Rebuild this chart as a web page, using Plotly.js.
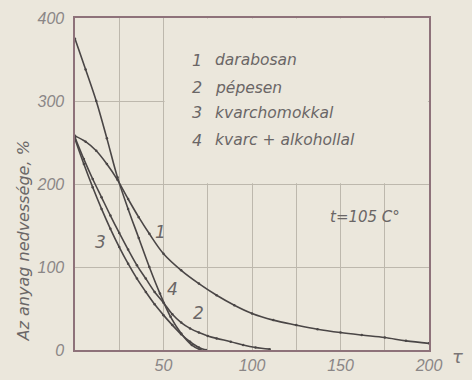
<!DOCTYPE html>
<html>
<head>
<meta charset="utf-8">
<script src="https://cdn.plot.ly/plotly-3.0.1.min.js"></script>
<style>html,body{margin:0;padding:0;background:#ebe7dc;}#chart{width:472px;height:380px;}</style>
</head>
<body>
<div id="chart"></div>
<script>
// Curve 1 - darabosan
const x1 = [0, 6, 12, 18, 24, 30, 36, 42, 50, 60, 70, 80, 90, 100, 112, 125, 137, 150, 162, 175, 187, 200];
const y1 = [258, 251, 240, 224, 205, 182, 160, 140, 116, 96, 80, 66, 54, 44, 36, 30, 25, 21, 18, 15, 11, 8];
// Curve 2 - pépesen
const x2 = [0, 5, 10, 15, 20, 25, 30, 35, 40, 45, 50, 55, 60, 65, 70, 75, 80, 88, 95, 102, 110];
const y2 = [256, 230, 206, 184, 162, 141, 121, 102, 86, 70, 57, 43, 33, 26, 21, 17, 14, 10, 6, 3, 1];
// Curve 3 - kvarchomokkal
const x3 = [0, 5, 10, 15, 20, 25, 30, 35, 40, 45, 50, 55, 60, 65, 70, 74];
const y3 = [254, 224, 196, 170, 146, 124, 104, 86, 70, 55, 42, 30, 19, 10, 3, 0];
// Curve 4 - kvarc + alkohollal
const x4 = [0, 6, 12, 18, 24, 30, 36, 42, 48, 54, 60, 66, 71];
const y4 = [375, 338, 300, 255, 208, 170, 135, 100, 68, 40, 20, 6, 0];

const xTicks = [50, 100, 150, 200];
const yTicks = [0, 100, 200, 300, 400];
const legendNums = ['1', '2', '3', '4'];
const legendTexts = ['darabosan', 'pépesen', 'kvarchomokkal', 'kvarc + alkohollal'];

const FONT = 'DejaVu Sans, sans-serif';
const TICKFONT = 'Liberation Sans, Arial, sans-serif';
const lineColor = '#4a4646';
const textColor = '#6a6666';

function curve(x, y) {
  return {
    x: x, y: y, type: 'scatter', mode: 'lines+markers',
    line: {color: lineColor, width: 1.6, shape: 'spline', smoothing: 1},
    marker: {size: 2.5, color: lineColor},
    showlegend: false, hoverinfo: 'skip'
  };
}

const data = [curve(x1, y1), curve(x2, y2), curve(x3, y3), curve(x4, y4)];

const annotations = [];
const legendY = [349, 316, 286, 253];
for (let i = 0; i < legendNums.length; i++) {
  annotations.push({x: 69, y: legendY[i], xref: 'x', yref: 'y', text: legendNums[i],
    showarrow: false, xanchor: 'center', font: {family: FONT, size: 16, color: textColor, style: 'italic'}});
  annotations.push({x: 78, y: legendY[i], xref: 'x', yref: 'y', text: legendTexts[i],
    showarrow: false, xanchor: 'left', font: {family: FONT, size: 15.5, color: textColor, style: 'italic'}});
}
annotations.push({x: 143, y: 160, xref: 'x', yref: 'y', text: 't=105 C°', showarrow: false,
  xanchor: 'left', font: {family: FONT, size: 15, color: textColor, style: 'italic'}});
const curveLabels = [['1', 48.5, 142], ['2', 69.5, 45], ['3', 14.5, 130], ['4', 55, 73]];
curveLabels.forEach(c => annotations.push({x: c[1], y: c[2], xref: 'x', yref: 'y', text: c[0],
  showarrow: false, font: {family: FONT, size: 17, color: textColor, style: 'italic'}}));
annotations.push({x: 1.06, y: 0, xref: 'paper', yref: 'paper', yshift: -19, text: 'τ', showarrow: false,
  xanchor: 'left', font: {family: FONT, size: 18, color: '#7a7676', style: 'italic'}});
annotations.push({x: -0.147, y: 0.33, xref: 'paper', yref: 'paper', xanchor: 'center', yanchor: 'middle',
  text: 'Az anyag nedvessége, %', textangle: -90, showarrow: false,
  font: {family: FONT, size: 16, color: textColor, style: 'italic'}});

const layout = {
  width: 472, height: 380,
  margin: {l: 75, r: 43, t: 18, b: 30},
  paper_bgcolor: '#ebe7dc', plot_bgcolor: '#ebe7dc',
  font: {family: FONT, color: '#7a7676'},
  xaxis: {
    range: [0, 200], tickvals: xTicks, ticktext: xTicks.map(String),
    showgrid: true, gridcolor: '#bdb8ad', gridwidth: 1,
    minor: {dtick: 25, showgrid: true, gridcolor: '#bdb8ad', gridwidth: 1},
    showline: true, linecolor: '#8e727a', linewidth: 1.6, mirror: true,
    zeroline: false, ticks: '',
    tickfont: {family: TICKFONT, size: 16, color: '#8a8686', style: 'italic'}
  },
  yaxis: {
    range: [0, 400], tickvals: yTicks, ticktext: yTicks.map(String),
    showgrid: true, gridcolor: '#bdb8ad', gridwidth: 1,
    showline: true, linecolor: '#8e727a', linewidth: 1.6, mirror: true,
    zeroline: false, ticks: '', ticklabelstandoff: 6,
    tickfont: {family: TICKFONT, size: 16, color: '#8a8686', style: 'italic'}
  },
  shapes: [{
    type: 'rect', xref: 'x', yref: 'y', x0: 50.6, x1: 199.4, y0: 201, y1: 399.4,
    fillcolor: '#ebe7dc', line: {width: 0}, layer: 'between'
  }],
  annotations: annotations
};

Plotly.newPlot('chart', data, layout, {displayModeBar: false, staticPlot: true});
</script>
</body>
</html>
